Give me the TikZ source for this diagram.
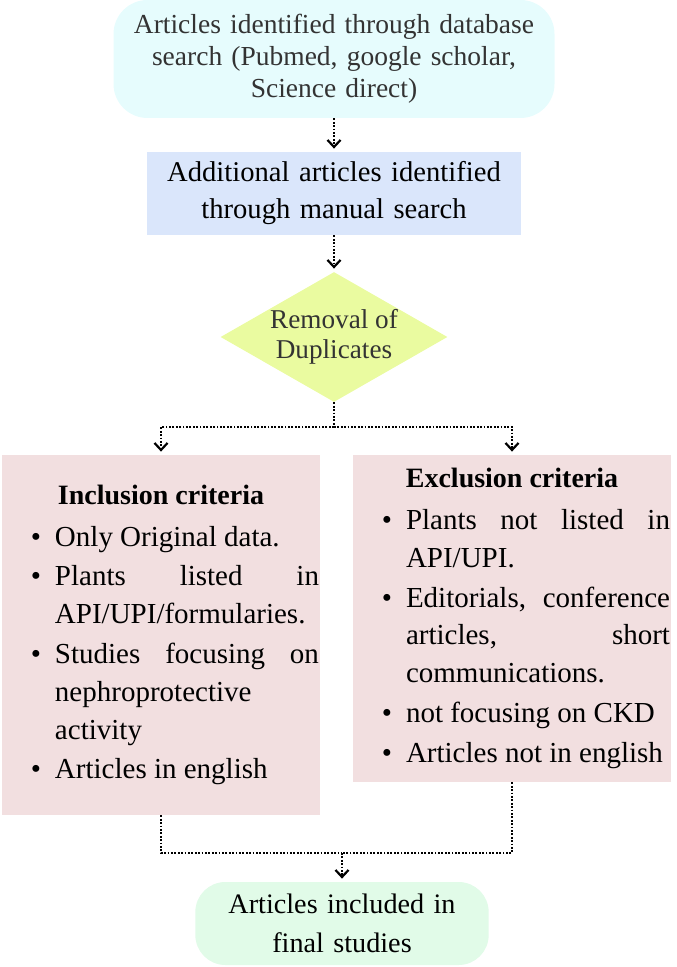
\documentclass[tikz,border=0pt]{standalone}
\usepackage{fontspec}
\setmainfont{Liberation Serif}
\usepackage{enumitem}
\usetikzlibrary{shapes.geometric, arrows.meta, positioning, calc}

\definecolor{searchcyan}{RGB}{230,252,253}
\definecolor{manualblue}{RGB}{218,230,251}
\definecolor{dupyellow}{RGB}{234,251,160}
\definecolor{critpink}{RGB}{242,223,224}
\definecolor{finalgreen}{RGB}{225,251,232}
\definecolor{txtgray}{RGB}{51,51,51}

\setlist[itemize]{leftmargin=26.5pt, rightmargin=0.5pt, labelsep=7pt, label={\textbullet}, topsep=2pt, itemsep=1pt, parsep=0pt, partopsep=0pt}

\begin{document}
\begin{tikzpicture}[x=0.5pt, y=-0.5pt,
    startbox/.style={rectangle, rounded corners=17pt, fill=searchcyan, minimum width=220.5pt, minimum height=59pt, text width=212pt, align=center, text=txtgray, font=\fontsize{13.75}{16}\selectfont},
    manualbox/.style={rectangle, fill=manualblue, minimum width=185pt, minimum height=41.5pt, text width=180pt, align=center, font=\fontsize{14.3}{18.5}\selectfont},
    dupdiamond/.style={diamond, aspect=1.75, inner sep=0pt, fill=dupyellow, minimum width=113.5pt, minimum height=65pt, align=center, text=txtgray, font=\fontsize{13.6}{15}\selectfont},
    critbox/.style={rectangle, fill=critpink, inner sep=0pt, text width=159pt, align=justify, font=\fontsize{14.5}{18.9}\selectfont},
    endbox/.style={rectangle, rounded corners=15pt, fill=finalgreen, minimum width=145pt, minimum height=41.5pt, text width=140pt, align=center, font=\fontsize{14.1}{19.5}\selectfont},
    dotline/.style={line width=0.9pt, dash pattern=on 0.9pt off 0.8pt},
    arrow/.style={dotline, shorten >=1.5pt, -{Straight Barb[length=3.5pt, width=6.5pt, line width=1.1pt]}}
]
\useasboundingbox (0,0) rectangle (676,967);

\node[startbox] (search) at (334,59) {Articles identified through database\\search (Pubmed, google scholar,\\Science direct)};
\node[manualbox] (manual) at (334,193.5) {Additional articles identified\\through manual search};
\node[dupdiamond] (dup) at (334,337) {Removal of\\Duplicates};

\node[critbox, minimum height=180pt] (incl) at (161,635) {%
{\centering\bfseries\fontsize{14}{18.9}\selectfont Inclusion criteria\par}
\begin{itemize}
\item Only Original data.
\item Plants listed in\linebreak API/UPI/formularies.
\item Studies focusing on\linebreak nephroprotective\newline activity
\item Articles in english
\end{itemize}};

\node[critbox, minimum height=163.5pt] (excl) at (512,618.5) {%
{\centering\bfseries\fontsize{14}{18.9}\selectfont Exclusion criteria\par}
\begin{itemize}
\item Plants not listed in\linebreak API/UPI.
\item Editorials, conference\linebreak articles, short\linebreak communications.
\item not focusing on CKD
\item Articles not in english
\end{itemize}};

\node[endbox] (final) at (342,923.5) {Articles included in\\final studies};

% connectors
\draw[arrow] (search) -- (manual);
\draw[arrow] (manual) -- (dup);
\coordinate (split) at (334,427);
\draw[dotline] (dup.south) -- (split);
\draw[arrow] (split) -| (incl.north);
\draw[arrow] (split) -| (excl.north);
\coordinate (join) at (342,853);
\draw[dotline] (incl.south) |- (join);
\draw[dotline] (excl.south) |- (join);
\draw[arrow] (join) -- (final);
\end{tikzpicture}
\end{document}
